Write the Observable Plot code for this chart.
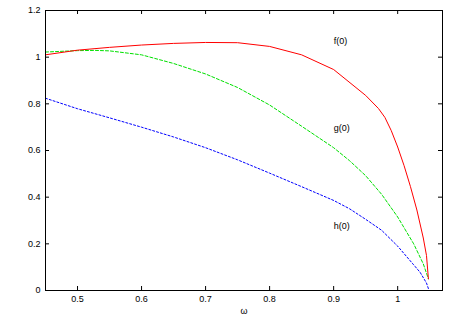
<!DOCTYPE html>
<html>
<head>
<meta charset="utf-8">
<script src="https://cdn.jsdelivr.net/npm/d3@7"></script>
<script src="https://cdn.jsdelivr.net/npm/@observablehq/plot@0.6"></script>
<style>
  html, body { margin: 0; padding: 0; background: #fff; }
  #chart svg { display: block; }
</style>
</head>
<body>
<div id="chart"></div>
<script>
// omega values and series
const fOmega = [0.45, 0.5, 0.55, 0.6, 0.65, 0.7, 0.75, 0.8, 0.85, 0.9, 0.95, 0.97, 0.98, 0.99, 1.0, 1.01, 1.02, 1.03, 1.04, 1.045, 1.048];
const fValues = [1.010, 1.030, 1.042, 1.052, 1.059, 1.063, 1.062, 1.046, 1.010, 0.947, 0.836, 0.780, 0.742, 0.685, 0.615, 0.535, 0.445, 0.345, 0.225, 0.150, 0.050];

const gOmega = [0.45, 0.5, 0.528, 0.55, 0.6, 0.65, 0.7, 0.75, 0.8, 0.85, 0.9, 0.925, 0.95, 0.975, 1.0, 1.025, 1.04, 1.048];
const gValues = [1.022, 1.028, 1.029, 1.027, 1.010, 0.973, 0.928, 0.870, 0.795, 0.704, 0.612, 0.556, 0.492, 0.412, 0.315, 0.200, 0.114, 0.050];

const hOmega = [0.45, 0.5, 0.55, 0.6, 0.65, 0.7, 0.75, 0.8, 0.85, 0.9, 0.925, 0.95, 0.975, 1.0, 1.025, 1.035, 1.045, 1.049];
const hValues = [0.824, 0.779, 0.740, 0.700, 0.658, 0.612, 0.560, 0.503, 0.445, 0.386, 0.350, 0.305, 0.258, 0.190, 0.110, 0.078, 0.032, 0.0];

const xTicks = [0.5, 0.6, 0.7, 0.8, 0.9, 1.0];
const yTicks = [0, 0.2, 0.4, 0.6, 0.8, 1.0, 1.2];

const labelNames = ["f(0)", "g(0)", "h(0)"];
const labelOmega = [0.9, 0.9, 0.9];
const labelValues = [1.067, 0.694, 0.276];

const zip = (xs, ys) => xs.map((x, i) => ({x, y: ys[i]}));
const fData = zip(fOmega, fValues);
const gData = zip(gOmega, gValues);
const hData = zip(hOmega, hValues);
const labels = labelNames.map((t, i) => ({t, x: labelOmega[i], y: labelValues[i]}));

const font = "'Liberation Sans', Arial, Helvetica, sans-serif";

const W = 456, H = 319, mL = 45, mR = 14, mT = 10, mB = 29;
const plotW = W - mL - mR, plotH = H - mT - mB, tick = 4;

const chart = Plot.plot({
  width: W,
  height: H,
  marginLeft: mL,
  marginRight: mR,
  marginTop: mT,
  marginBottom: mB,
  style: {fontFamily: font, fontSize: "9px", color: "#000", background: "#fff"},
  x: {domain: [0.45, 1.07]},
  y: {domain: [0, 1.2]},
  marks: [
    Plot.line(hData, {x: "x", y: "y", stroke: "#0000ff", strokeWidth: 1, strokeDasharray: "2,2"}),
    Plot.line(gData, {x: "x", y: "y", stroke: "#00e000", strokeWidth: 1, strokeDasharray: "3,2"}),
    Plot.line(fData, {x: "x", y: "y", stroke: "#ff0000", strokeWidth: 1}),
    Plot.axisX({ticks: xTicks, tickSize: 0, tickPadding: 5, label: null, tickFormat: d => String(d)}),
    Plot.axisY({ticks: yTicks, tickSize: 0, tickPadding: 5, label: null, tickFormat: d => String(d)}),
    // inward ticks on all four sides
    Plot.ruleX(xTicks, {x: d => d, insetTop: plotH - tick, stroke: "#000"}),
    Plot.ruleX(xTicks, {x: d => d, insetBottom: plotH - tick, stroke: "#000"}),
    Plot.ruleY(yTicks, {y: d => d, insetRight: plotW - tick, stroke: "#000"}),
    Plot.ruleY(yTicks, {y: d => d, insetLeft: plotW - tick, stroke: "#000"}),
    Plot.frame({stroke: "#000", strokeWidth: 1}),
    Plot.text(labels, {x: "x", y: "y", text: "t", textAnchor: "start", fill: "#000", fontSize: 9}),
    Plot.text(["ω"], {frameAnchor: "bottom", dy: 23, text: d => d, fill: "#000", fontSize: 9})
  ]
});
document.getElementById("chart").appendChild(chart);
</script>
</body>
</html>
